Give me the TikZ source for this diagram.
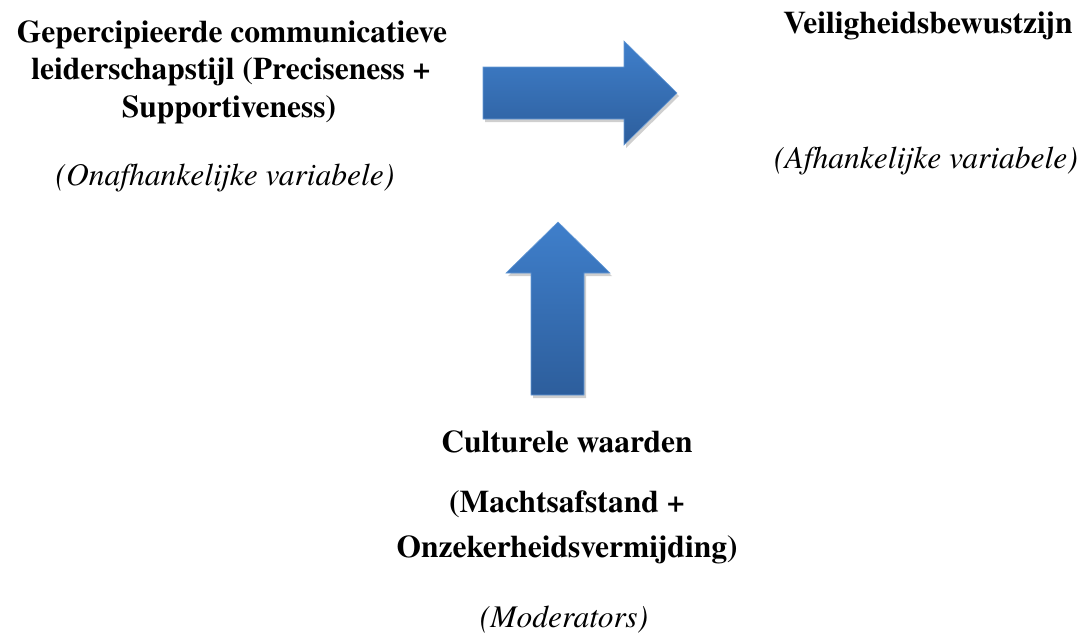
\documentclass[tikz,border=0pt]{standalone}
\usepackage{fontspec}
\setmainfont{texgyretermes}[Extension=.otf, UprightFont=*-regular, BoldFont=*-bold, ItalicFont=*-italic, BoldItalicFont=*-bolditalic]
\definecolor{arrtop}{HTML}{3F7FCB}
\definecolor{arrbot}{HTML}{2D5E9C}
\definecolor{shadowgrey}{HTML}{CFCFCF}
\begin{document}
\begin{tikzpicture}[x=1pt,y=-1pt,
  bigtext/.style={font=\fontsize{31.5}{37}\selectfont\bfseries, anchor=base, inner sep=0pt},
  ittext/.style={font=\fontsize{31.5}{37}\selectfont\itshape, anchor=base, inner sep=0pt},
  arrowfill/.style={top color=arrtop, bottom color=arrbot, draw=arrtop!80!white, line width=0.6pt},
  shadowst/.style={fill=shadowgrey, draw=none}]
\useasboundingbox (0,0) rectangle (1091,640);
% right arrow
\fill[shadowst, shift={(2,3)}] (483,67) -- (624,67) -- (624,41) -- (677,93) -- (624,145) -- (624,119) -- (483,119) -- cycle;
\path[arrowfill] (483,67) -- (624,67) -- (624,41) -- (677,93) -- (624,145) -- (624,119) -- (483,119) -- cycle;
% up arrow
\fill[shadowst, shift={(2,3)}] (558,222) -- (610,273) -- (584,273) -- (584,395) -- (531,395) -- (531,273) -- (506,273) -- cycle;
\path[arrowfill] (558,222) -- (610,273) -- (584,273) -- (584,395) -- (531,395) -- (531,273) -- (506,273) -- cycle;
% left block
\node[bigtext] (l1) at (232,42) {Gepercipieerde communicatieve};
\node[bigtext] (l2) at (231,79.5) {leiderschapstijl (Preciseness +};
\node[bigtext] (l3) at (229,117) {Supportiveness)};
\node[ittext] (l4) at (225,185) {(Onafhankelijke variabele)};
% right block
\node[bigtext] (r1) at (928,33) {Veiligheidsbewustzijn};
\node[ittext] (r2) at (926,168) {(Afhankelijke variabele)};
% bottom block
\node[bigtext] (b1) at (567,452) {Culturele waarden};
\node[bigtext] (b2) at (567,512) {(Machtsafstand +};
\node[bigtext] (b3) at (567,557) {Onzekerheidsvermijding)};
\node[ittext] (b4) at (564,627) {(Moderators)};
\end{tikzpicture}
\end{document}
